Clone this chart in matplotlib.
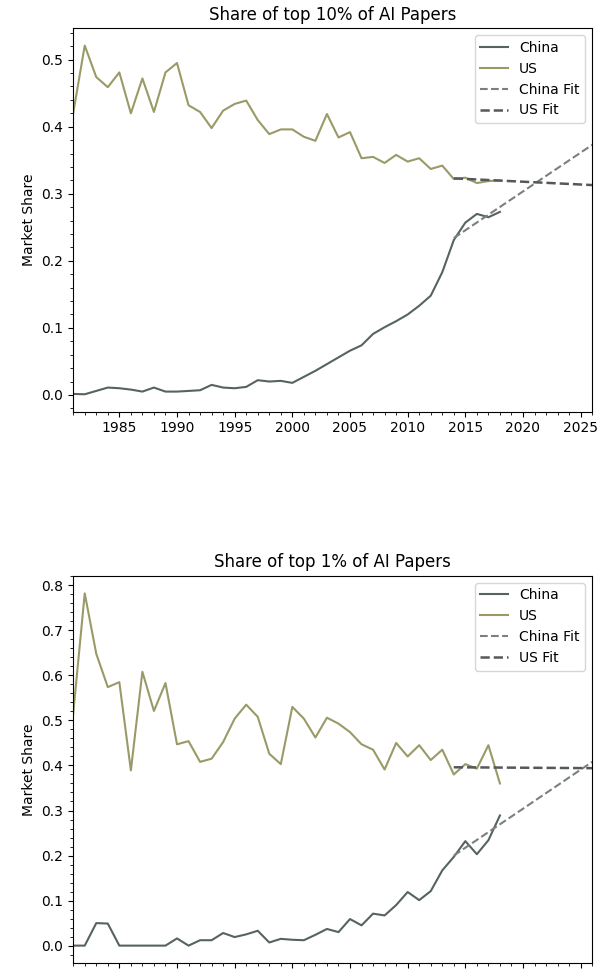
import numpy as np
import matplotlib.pyplot as plt

years = list(range(1981, 2019))

# share of top 10% papers
china_10 = [0.0015, 0.001, 0.006, 0.011, 0.010, 0.008, 0.005, 0.011, 0.005, 0.005,
            0.006, 0.007, 0.015, 0.011, 0.010, 0.012, 0.022, 0.020, 0.021, 0.018,
            0.027, 0.036, 0.046, 0.056, 0.066, 0.074, 0.091, 0.101, 0.110, 0.120,
            0.133, 0.148, 0.183, 0.231, 0.257, 0.270, 0.265, 0.273]
us_10 = [0.42, 0.521, 0.474, 0.459, 0.481, 0.42, 0.472, 0.422, 0.481, 0.495,
         0.432, 0.422, 0.398, 0.424, 0.434, 0.439, 0.41, 0.389, 0.396, 0.396,
         0.385, 0.379, 0.419, 0.384, 0.392, 0.353, 0.355, 0.346, 0.358, 0.348,
         0.353, 0.337, 0.342, 0.322, 0.324, 0.316, 0.319, 0.32]

# share of top 1% papers
china_1 = [0.0, 0.0, 0.05, 0.049, 0.0, 0.0, 0.0, 0.0, 0.0, 0.016,
           0.0, 0.012, 0.012, 0.028, 0.019, 0.025, 0.033, 0.007, 0.015, 0.013,
           0.012, 0.024, 0.037, 0.030, 0.059, 0.045, 0.071, 0.067, 0.090, 0.119,
           0.101, 0.121, 0.167, 0.197, 0.232, 0.203, 0.234, 0.289]
us_1 = [0.515, 0.782, 0.648, 0.574, 0.585, 0.389, 0.608, 0.521, 0.583, 0.447,
        0.454, 0.408, 0.415, 0.452, 0.504, 0.535, 0.508, 0.426, 0.403, 0.530,
        0.504, 0.462, 0.506, 0.493, 0.474, 0.447, 0.435, 0.391, 0.450, 0.420,
        0.445, 0.412, 0.435, 0.380, 0.403, 0.393, 0.445, 0.360]

# fitted trend lines (end points)
fit_years = [2014, 2026]
china_fit_10 = [0.234, 0.373]
us_fit_10 = [0.323, 0.313]
china_fit_1 = [0.200, 0.408]
us_fit_1 = [0.396, 0.394]

c_china = "#56645f"
c_us = "#9a9a68"
c_china_fit = "#7a8080"
c_us_fit = "#55585a"

fig = plt.figure(figsize=(6, 9.71), dpi=100)
ax1 = fig.add_axes([0.122, 0.576, 0.865, 0.395])
ax2 = fig.add_axes([0.122, 0.008, 0.865, 0.399])

panels = [
    (ax1, china_10, us_10, china_fit_10, us_fit_10, "Share of top 10% of AI Papers"),
    (ax2, china_1, us_1, china_fit_1, us_fit_1, "Share of top 1% of AI Papers"),
]
for ax, ch, us, chf, usf, title in panels:
    ax.plot(years, ch, color=c_china, lw=1.5, label="China")
    ax.plot(years, us, color=c_us, lw=1.5, label="US")
    ax.plot(fit_years, chf, "--", color=c_china_fit, lw=1.5, label="China Fit")
    ax.plot(fit_years, usf, "--", color=c_us_fit, lw=1.8, label="US Fit")
    ax.set_xlim(1981, 2026)
    ax.set_xticks([1985, 1990, 1995, 2000, 2005, 2010, 2015, 2020, 2025])
    ax.minorticks_on()
    ax.set_title(title, fontsize=12)
    ax.set_ylabel("Market Share", fontsize=10)
    ax.tick_params(labelsize=10)
    ax.legend(loc="upper right", fontsize=10)

ax2.tick_params(axis="x", labelbottom=False)

plt.savefig("out.png")
